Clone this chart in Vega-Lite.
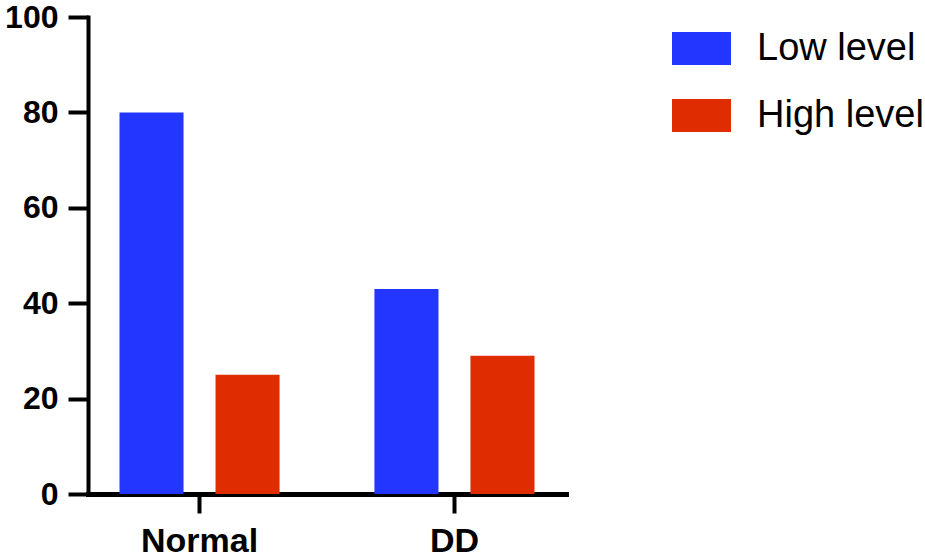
{
  "$schema": "https://vega.github.io/schema/vega-lite/v6.json",
  "width": 478,
  "height": 477,
  "autosize": {"type": "none"},
  "padding": {"left": 88, "top": 17, "right": 359, "bottom": 65},
  "background": "white",
  "data": {
    "values": [
      {"group": "Normal", "level": "Low level", "value": 80},
      {"group": "Normal", "level": "High level", "value": 25},
      {"group": "DD", "level": "Low level", "value": 43},
      {"group": "DD", "level": "High level", "value": 29}
    ]
  },
  "mark": {"type": "bar"},
  "encoding": {
    "x": {
      "field": "group",
      "type": "nominal",
      "sort": ["Normal", "DD"],
      "scale": {"paddingInner": 0.125, "paddingOuter": 0},
      "axis": {
        "title": null,
        "labelAngle": 0,
        "labelFont": "Liberation Sans",
        "labelFontWeight": "bold",
        "labelFontSize": 34,
        "labelColor": "black",
        "labelPadding": 11,
        "tickSize": 19,
        "tickWidth": 4,
        "tickColor": "black",
        "domainWidth": 5,
        "domainColor": "black",
        "domainCap": "square"
      }
    },
    "xOffset": {
      "field": "level",
      "type": "nominal",
      "sort": ["Low level", "High level"],
      "scale": {"paddingInner": 0.333, "paddingOuter": 0.328}
    },
    "y": {
      "field": "value",
      "type": "quantitative",
      "scale": {"domain": [0, 100], "nice": false},
      "axis": {
        "title": null,
        "grid": false,
        "values": [0, 20, 40, 60, 80, 100],
        "labelFont": "Liberation Sans",
        "labelFontWeight": "bold",
        "labelFontSize": 32,
        "labelColor": "black",
        "labelPadding": 10,
        "tickSize": 20,
        "tickWidth": 4,
        "tickColor": "black",
        "domainWidth": 4,
        "domainColor": "black",
        "domainCap": "square"
      }
    },
    "color": {
      "field": "level",
      "type": "nominal",
      "sort": ["Low level", "High level"],
      "scale": {"domain": ["Low level", "High level"], "range": ["#2236FF", "#DF2C00"]},
      "legend": {
        "title": null,
        "orient": "none",
        "legendX": 584,
        "legendY": 2,
        "padding": 0,
        "symbolType": "M-1,-0.559H1V0.559H-1Z",
        "symbolSize": 3481,
        "symbolStrokeWidth": 0,
        "symbolOpacity": 1,
        "rowPadding": 18,
        "labelOffset": 26,
        "labelFont": "Liberation Sans",
        "labelFontSize": 38,
        "labelColor": "black",
        "labelLimit": 400
      }
    }
  },
  "config": {"view": {"stroke": null}}
}
